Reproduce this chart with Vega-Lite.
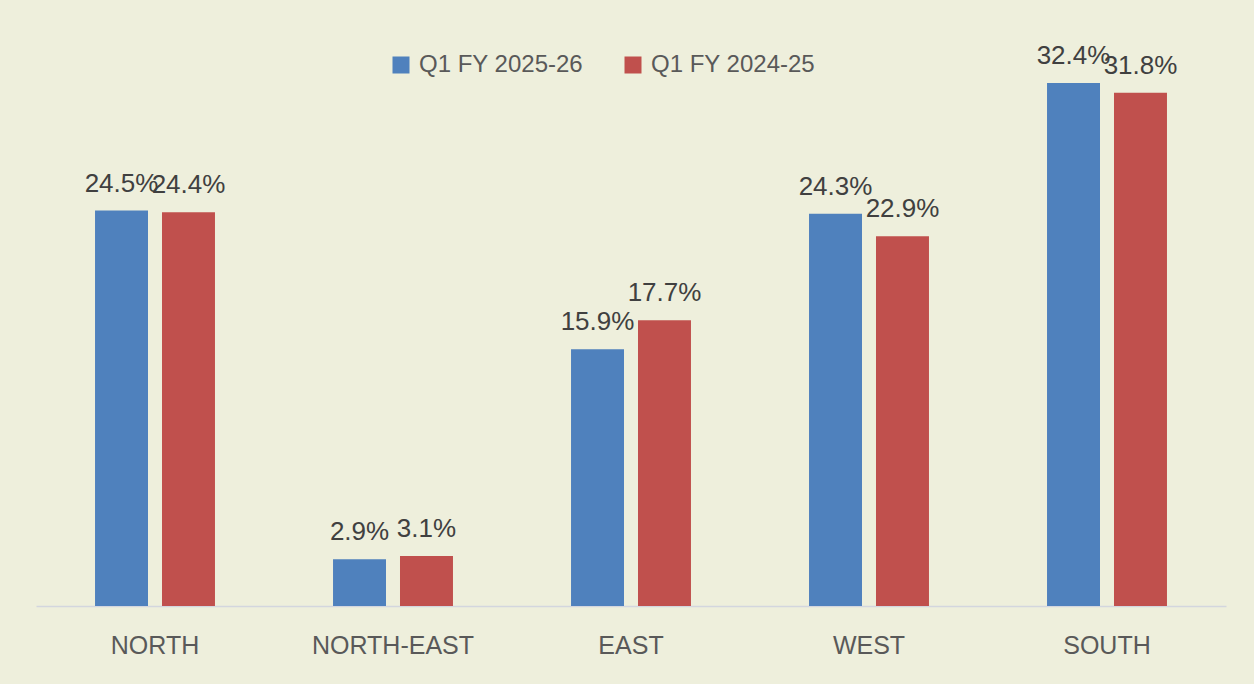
{
  "$schema": "https://vega.github.io/schema/vega-lite/v6.json",
  "width": 1190,
  "height": 600,
  "autosize": {"type": "none"},
  "padding": {"left": 36, "top": 6, "right": 28, "bottom": 78},
  "background": "#EEEFDC",
  "config": {"view": {"stroke": null}, "font": "Liberation Sans"},
  "data": {
    "values": [
      {"region": "NORTH", "period": "Q1 FY 2025-26", "value": 0.245},
      {"region": "NORTH", "period": "Q1 FY 2024-25", "value": 0.244},
      {"region": "NORTH-EAST", "period": "Q1 FY 2025-26", "value": 0.029},
      {"region": "NORTH-EAST", "period": "Q1 FY 2024-25", "value": 0.031},
      {"region": "EAST", "period": "Q1 FY 2025-26", "value": 0.159},
      {"region": "EAST", "period": "Q1 FY 2024-25", "value": 0.177},
      {"region": "WEST", "period": "Q1 FY 2025-26", "value": 0.243},
      {"region": "WEST", "period": "Q1 FY 2024-25", "value": 0.229},
      {"region": "SOUTH", "period": "Q1 FY 2025-26", "value": 0.324},
      {"region": "SOUTH", "period": "Q1 FY 2024-25", "value": 0.318}
    ]
  },
  "encoding": {
    "x": {
      "field": "region",
      "type": "nominal",
      "sort": ["NORTH", "NORTH-EAST", "EAST", "WEST", "SOUTH"],
      "scale": {"paddingInner": 0.496, "paddingOuter": 0.248},
      "axis": {
        "title": null,
        "labelAngle": 0,
        "labelFontSize": 25,
        "labelColor": "#595959",
        "labelPadding": 27,
        "ticks": false,
        "domainColor": "#D3D6DE",
        "domainWidth": 1.5,
        "grid": false
      }
    },
    "xOffset": {
      "field": "period",
      "sort": ["Q1 FY 2025-26", "Q1 FY 2024-25"],
      "scale": {"paddingInner": 0.209, "paddingOuter": 0}
    },
    "y": {
      "field": "value",
      "type": "quantitative",
      "scale": {"domain": [0, 0.3717], "nice": false, "zero": true},
      "axis": null
    }
  },
  "layer": [
    {
      "mark": {"type": "bar"},
      "encoding": {
        "color": {
          "field": "period",
          "type": "nominal",
          "sort": ["Q1 FY 2025-26", "Q1 FY 2024-25"],
          "scale": {"domain": ["Q1 FY 2025-26", "Q1 FY 2024-25"], "range": ["#4F81BD", "#C0504D"]},
          "legend": {
            "title": null,
            "orient": "none",
            "legendX": 353,
            "legendY": 47,
            "direction": "horizontal",
            "padding": 0,
            "symbolType": "square",
            "symbolSize": 289,
            "symbolStrokeWidth": 0,
            "symbolOpacity": 1,
            "labelFontSize": 24,
            "labelLimit": 400,
            "labelColor": "#595959",
            "labelOffset": 6,
            "columnPadding": 37
          }
        }
      }
    },
    {
      "mark": {"type": "text", "baseline": "alphabetic", "dy": -19, "fontSize": 26, "color": "#404040"},
      "encoding": {"text": {"field": "value", "format": ".1%"}}
    }
  ]
}
